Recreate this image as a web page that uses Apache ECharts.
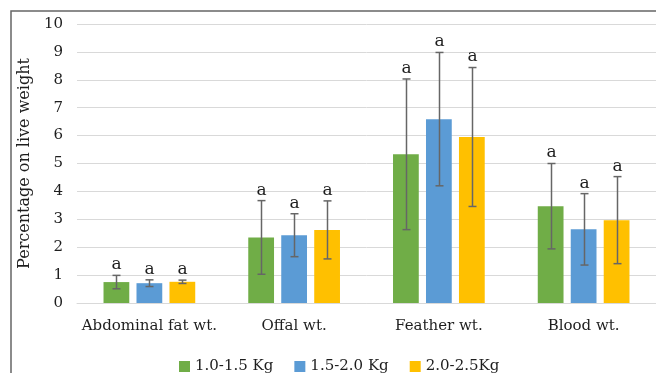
<!DOCTYPE html>
<html><head><meta charset="utf-8">
<script src="https://cdn.jsdelivr.net/npm/echarts@6/dist/echarts.min.js"></script>
<style>html,body{margin:0;padding:0;background:#fff}#c{width:656px;height:373px}</style>
</head><body><div id="c"></div>
<script>
var categories = ['Abdominal fat wt.', 'Offal wt.', 'Feather wt.', 'Blood wt.'];
var seriesNames = ['1.0-1.5 Kg', '1.5-2.0 Kg', '2.0-2.5Kg'];
var g1Values = [0.75, 2.35, 5.33, 3.47];
var g2Values = [0.71, 2.43, 6.59, 2.64];
var g3Values = [0.76, 2.62, 5.95, 2.97];
var g1Err = [0.24, 1.32, 2.70, 1.53];
var g2Err = [0.12, 0.77, 2.39, 1.28];
var g3Err = [0.06, 1.04, 2.49, 1.56];
var sigLetters = ['a', 'a', 'a', 'a'];
var yTicks = [0, 1, 2, 3, 4, 5, 6, 7, 8, 9, 10];

var colors = ['#70ad47', '#5b9bd5', '#ffc000'];
var values = [g1Values, g2Values, g3Values];
var errs = [g1Err, g2Err, g3Err];
var FONT = 'DejaVu Serif';
var TXT = '#1e1e1e';
var BAR_PCT = 0.178, GAP = 0.28;

var series = [];
values.forEach(function (v, i) {
  series.push({
    name: seriesNames[i], type: 'bar', data: v,
    barWidth: (BAR_PCT * 100) + '%', barGap: (GAP * 100) + '%',
    itemStyle: { color: colors[i] }, z: 2
  });
});
values.forEach(function (v, i) {
  series.push({
    type: 'custom', name: 'err' + i, z: 5, silent: true,
    data: v.map(function (val, k) { return [k, val - errs[i][k], val + errs[i][k]]; }),
    renderItem: function (params, api) {
      var band = api.size([1, 0])[0];
      var bw = band * BAR_PCT;
      var off = (i - 1) * bw * (1 + GAP);
      var lo = api.coord([api.value(0), api.value(1)]);
      var hi = api.coord([api.value(0), api.value(2)]);
      var x = Math.round(lo[0] + off) + 0.5;
      var cap = 4;
      var st = { stroke: '#666', lineWidth: 1.5 };
      return { type: 'group', children: [
        { type: 'line', shape: { x1: x, y1: lo[1], x2: x, y2: hi[1] }, style: st },
        { type: 'line', shape: { x1: x - cap, y1: lo[1], x2: x + cap, y2: lo[1] }, style: st },
        { type: 'line', shape: { x1: x - cap, y1: hi[1], x2: x + cap, y2: hi[1] }, style: st },
        { type: 'text', style: { text: sigLetters[params.dataIndex], x: x, y: hi[1] - 2,
          align: 'center', verticalAlign: 'bottom', fill: TXT, font: '17px "' + FONT + '"' } }
      ]};
    }
  });
});

var chart = echarts.init(document.getElementById('c'), null, { renderer: 'canvas' });
chart.setOption({
  animation: false,
  textStyle: { fontFamily: FONT },
  grid: { left: 77, top: 24, width: 584, height: 279, containLabel: false },
  legend: {
    data: seriesNames, left: 174, top: 354, itemWidth: 11, itemHeight: 11, itemGap: 21,
    icon: 'rect', textStyle: { fontFamily: FONT, fontSize: 15, color: TXT }
  },
  xAxis: {
    type: 'category', data: categories,
    axisLine: { lineStyle: { color: '#d9d9d9', width: 1 } },
    axisTick: { show: false },
    axisLabel: { color: TXT, fontSize: 15, fontFamily: FONT, margin: 16, interval: 0 }
  },
  yAxis: {
    type: 'value', min: yTicks[0], max: yTicks[yTicks.length - 1], interval: 1,
    name: 'Percentage on live weight', nameLocation: 'middle', nameGap: 36,
    nameTextStyle: { color: TXT, fontSize: 16, fontFamily: FONT },
    axisLine: { show: false }, axisTick: { show: false },
    axisLabel: { color: TXT, fontSize: 15, fontFamily: FONT, margin: 14 },
    splitLine: { lineStyle: { color: '#d9d9d9', width: 1 } }
  },
  graphic: [{ type: 'rect', shape: { x: 11, y: 11, width: 700, height: 400 },
    style: { fill: 'none', stroke: '#666', lineWidth: 1.5 }, silent: true }],
  series: series
});
</script></body></html>
